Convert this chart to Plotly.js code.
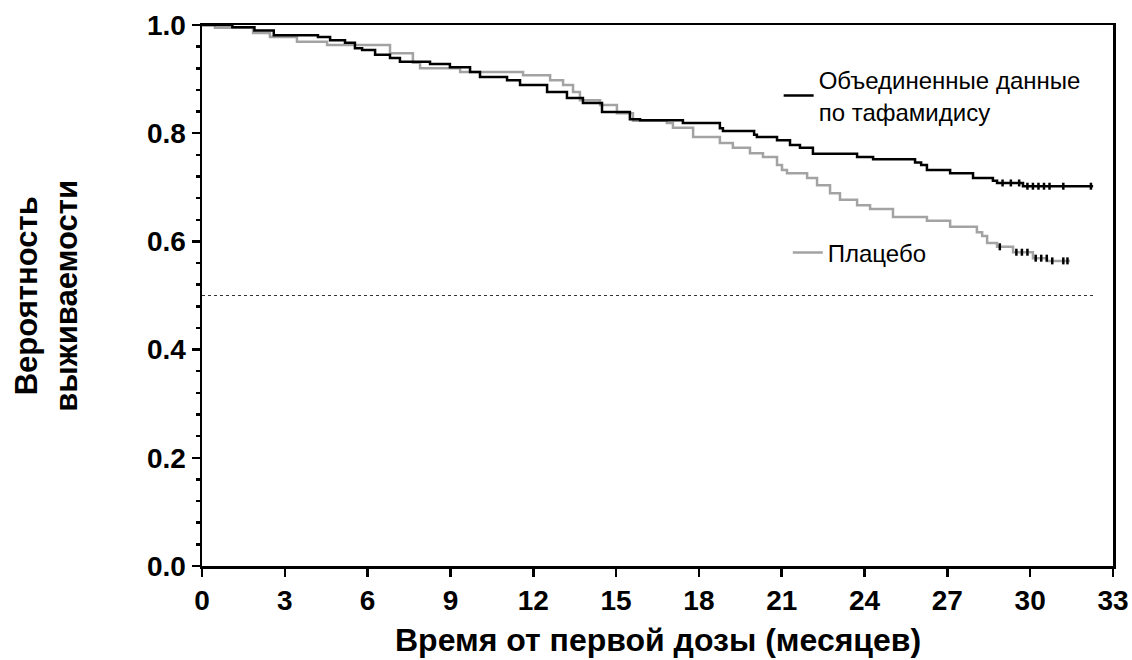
<!DOCTYPE html>
<html>
<head>
<meta charset="utf-8">
<script src="https://cdn.plot.ly/plotly-3.0.1.min.js"></script>
<style>html,body{margin:0;padding:0;background:#fff;}#chart{width:1132px;height:660px;}</style>
</head>
<body>
<div id="chart"></div>
<script>
// Tafamidis pooled (step function start points: month, survival)
const tafMonths = [0, 1.1, 1.9, 2.6, 4.2, 4.64, 5.18, 5.54, 5.8, 6.27, 6.81, 7.17, 8.26, 8.98, 9.71, 10.07, 11.05, 11.52, 12.5, 13.22, 13.8, 14.49, 15.5, 15.87, 17.42, 18.76, 18.87, 20.0, 20.1, 20.83, 21.3, 21.66, 22.13, 23.73, 24.31, 25.83, 26.05, 26.26, 27.1, 27.93, 28.65, 28.8, 29.74, 32.28];
const tafSurv   = [1.0, 0.996, 0.99, 0.981, 0.978, 0.972, 0.967, 0.957, 0.954, 0.945, 0.939, 0.932, 0.928, 0.922, 0.913, 0.904, 0.898, 0.889, 0.876, 0.865, 0.856, 0.839, 0.826, 0.824, 0.819, 0.809, 0.804, 0.797, 0.793, 0.787, 0.778, 0.773, 0.762, 0.756, 0.752, 0.746, 0.741, 0.732, 0.726, 0.717, 0.712, 0.708, 0.702, 0.702];
// Placebo
const plaMonths = [0, 0.47, 1.85, 2.46, 3.44, 4.53, 6.81, 7.64, 7.9, 9.35, 11.63, 12.61, 13.08, 13.44, 13.69, 14.42, 15.03, 15.61, 16.84, 17.06, 17.79, 18.76, 19.23, 19.85, 20.32, 20.83, 21.01, 21.19, 21.92, 22.28, 22.75, 23.11, 23.73, 24.2, 25.03, 26.26, 27.1, 28.07, 28.26, 28.44, 28.8, 29.38, 30.1, 30.61, 31.44];
const plaSurv   = [1.0, 0.995, 0.985, 0.978, 0.969, 0.963, 0.948, 0.93, 0.92, 0.913, 0.907, 0.898, 0.889, 0.876, 0.861, 0.852, 0.837, 0.823, 0.819, 0.81, 0.793, 0.782, 0.773, 0.763, 0.756, 0.741, 0.732, 0.726, 0.717, 0.704, 0.689, 0.677, 0.667, 0.66, 0.645, 0.638, 0.627, 0.617, 0.61, 0.597, 0.59, 0.58, 0.569, 0.564, 0.564];
// Censoring times
const tafCensor = [29.0, 29.3, 29.6, 29.9, 30.1, 30.3, 30.5, 30.7, 31.2, 32.2];
const plaCensor = [28.9, 29.5, 29.7, 29.9, 30.2, 30.4, 30.6, 30.8, 31.2, 31.35];
// Median reference line
const refX = [0, 32.3];
const refY = [0.5, 0.5];

const tafName = "Объединенные данные<br>по тафамидису";
const plaName = "Плацебо";
const xTitle = "Время от первой дозы (месяцев)";
const yTitle = "Вероятность<br>выживаемости";
const xTicks = [0, 3, 6, 9, 12, 15, 18, 21, 24, 27, 30, 33];
const yTicks = [0.0, 0.2, 0.4, 0.6, 0.8, 1.0];

function stepAt(xs, ys, t) {
  let v = ys[0];
  for (let i = 0; i < xs.length; i++) { if (xs[i] <= t) v = ys[i]; }
  return v;
}

const FONT = "Liberation Sans, Arial, sans-serif";

const traces = [
  {x: refX, y: refY, mode: 'lines', line: {color: '#333', width: 1, dash: 'dot'}, showlegend: false, hoverinfo: 'skip'},
  {x: plaMonths, y: plaSurv, mode: 'lines', line: {color: '#a3a3a3', width: 2.5, shape: 'hv'}, name: plaName, legend: 'legend2'},
  {x: plaCensor, y: plaCensor.map(t => stepAt(plaMonths, plaSurv, t)), mode: 'markers',
   marker: {symbol: 'line-ns-open', size: 5, color: '#000', line: {width: 2.5, color: '#000'}}, showlegend: false},
  {x: tafMonths, y: tafSurv, mode: 'lines', line: {color: '#000', width: 2.5, shape: 'hv'}, name: tafName, legend: 'legend'},
  {x: tafCensor, y: tafCensor.map(t => stepAt(tafMonths, tafSurv, t)), mode: 'markers',
   marker: {symbol: 'line-ns-open', size: 5, color: '#000', line: {width: 2.5, color: '#000'}}, showlegend: false}
];

const layout = {
  width: 1132, height: 660,
  margin: {l: 202, r: 19, t: 25, b: 94},
  paper_bgcolor: '#fff', plot_bgcolor: '#fff',
  font: {family: FONT, color: '#000'},
  xaxis: {
    range: [0, 33], tickvals: xTicks, ticktext: xTicks.map(String),
    showgrid: false, zeroline: false,
    showline: true, linecolor: '#000', linewidth: 2.5, mirror: true,
    ticks: 'outside', ticklen: 8, tickwidth: 2.5, tickcolor: '#000',
    tickfont: {family: FONT, size: 28, weight: 'bold', color: '#000'}
  },
  yaxis: {
    range: [0, 1.0], tickvals: yTicks, ticktext: yTicks.map(v => v.toFixed(1)),
    showgrid: false, zeroline: false,
    showline: true, linecolor: '#000', linewidth: 2.5, mirror: true,
    ticks: 'outside', ticklen: 8, tickwidth: 2.5, tickcolor: '#000',
    minor: {dtick: 0.04, ticks: 'outside', ticklen: 4, tickwidth: 2.5, tickcolor: '#000'},
    tickfont: {family: FONT, size: 28, weight: 'bold', color: '#000'}
  },
  legend: {
    x: 0.633, xanchor: 'left', y: 0.869, yanchor: 'middle', valign: 'middle',
    bgcolor: 'rgba(0,0,0,0)', borderwidth: 0,
    font: {family: FONT, size: 24, color: '#000'}
  },
  legend2: {
    x: 0.643, xanchor: 'left', y: 0.5786, yanchor: 'middle', valign: 'middle',
    bgcolor: 'rgba(0,0,0,0)', borderwidth: 0,
    font: {family: FONT, size: 24, color: '#000'}
  },
  annotations: [
    {text: xTitle, xref: 'paper', yref: 'paper', x: 0.5, y: -0.137, xanchor: 'center', yanchor: 'middle',
     showarrow: false, font: {family: FONT, size: 32, weight: 'bold', color: '#000'}},
    {text: yTitle, xref: 'paper', yref: 'paper', x: -0.171, y: 0.5, xanchor: 'center', yanchor: 'middle',
     textangle: -90, showarrow: false, font: {family: FONT, size: 31, weight: 'bold', color: '#000'}}
  ]
};

Plotly.newPlot('chart', traces, layout, {staticPlot: true, displayModeBar: false});
</script>
</body>
</html>
